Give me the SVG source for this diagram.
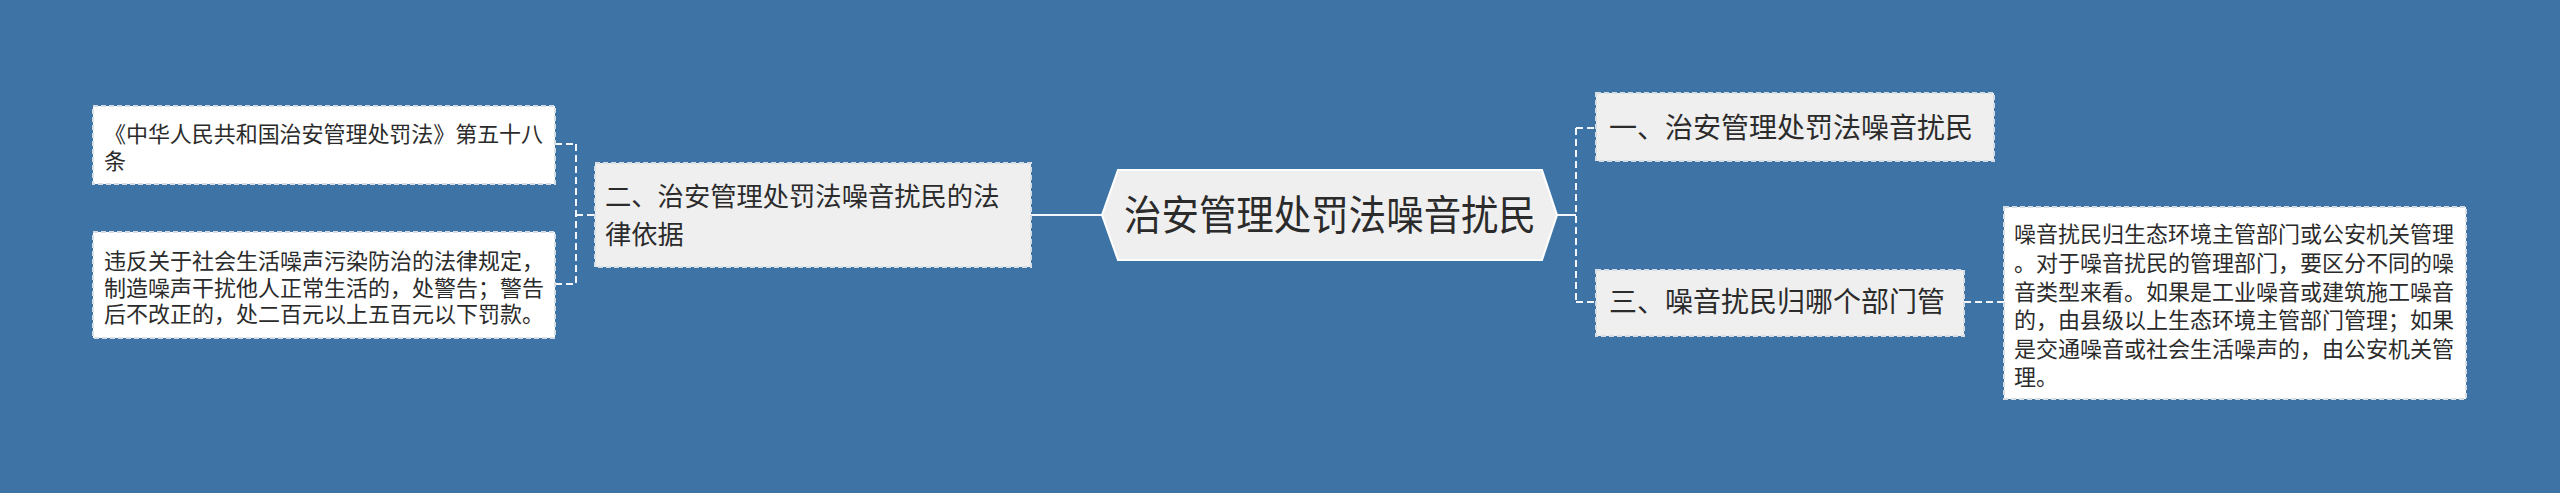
<svg xmlns="http://www.w3.org/2000/svg" width="2560" height="493" viewBox="0 0 2560 493">
<style>
text{font-family:"Liberation Sans","Noto Sans CJK SC","Noto Sans CJK TC",sans-serif;fill:#2b2b2b;text-spacing-trim:space-all}
.box{stroke:#d6dde5;stroke-width:2;stroke-dasharray:5 3}
.white{fill:#ffffff}
.grey{fill:#efefef}
.dash{stroke:#f2f5f9;stroke-width:2;fill:none;stroke-dasharray:7 4}
.solid{stroke:#f2f5f9;stroke-width:2;fill:none}
.t22{font-size:22px}
.t26{font-size:26.3px}
.t28{font-size:28px}
.t41{font-size:41px}
</style>
<rect width="2560" height="493" fill="#3d73a5"/>
<g id="connectors">
<line class="solid" x1="1031" y1="215" x2="1102" y2="215"/>
<line class="dash" x1="576" y1="144" x2="576" y2="284"/>
<line class="dash" x1="555" y1="144" x2="576" y2="144"/>
<line class="dash" x1="555" y1="284" x2="576" y2="284"/>
<line class="dash" x1="576" y1="215" x2="595" y2="215"/>
<line class="solid" x1="1557" y1="215" x2="1576" y2="215"/>
<line class="dash" x1="1576" y1="128" x2="1576" y2="302"/>
<line class="dash" x1="1576" y1="128" x2="1596" y2="128"/>
<line class="dash" x1="1576" y1="302" x2="1596" y2="302"/>
<line class="dash" x1="1964" y1="302" x2="2004" y2="302"/>
</g>
<g id="root">
<polygon points="1102,215 1118,170 1542,170 1557,215 1542,260 1118,260" fill="#efefef" stroke="#ffffff" stroke-width="2"/>
<text class="t41" x="1124" y="230" textLength="412" lengthAdjust="spacingAndGlyphs">治安管理处罚法噪音扰民</text>
</g>
<g id="node-2">
<rect class="box grey" x="595" y="163" width="436" height="104"/>
<text class="t26"><tspan x="605" y="206">二、治安管理处罚法噪音扰民的法</tspan><tspan x="605" y="244">律依据</tspan></text>
</g>
<g id="node-2-1">
<rect class="box white" x="93" y="106" width="462" height="78"/>
<text class="t22" x="104 125.95 147.9 169.85 191.8 213.75 235.7 257.65 279.6 301.55 323.5 345.45 367.4 389.35 411.3 433.25 455.2 477.15 499.1 521.05" y="141.5">《中华人民共和国治安管理处罚法》第五十八</text>
<text class="t22" x="104" y="168.8">条</text>
</g>
<g id="node-2-2">
<rect class="box white" x="93" y="232" width="462" height="106"/>
<text class="t22"><tspan x="104" y="269">违反关于社会生活噪声污染防治的法律规定，</tspan><tspan x="104" y="295.7">制造噪声干扰他人正常生活的，处警告；警告</tspan><tspan x="104" y="322.4">后不改正的，处二百元以上五百元以下罚款。</tspan></text>
</g>
<g id="node-1">
<rect class="box grey" x="1596" y="93" width="398" height="68"/>
<text class="t28" x="1609" y="137.6">一、治安管理处罚法噪音扰民</text>
</g>
<g id="node-3">
<rect class="box grey" x="1596" y="270" width="368" height="66"/>
<text class="t28" x="1609" y="312.3">三、噪音扰民归哪个部门管</text>
</g>
<g id="node-3-1">
<rect class="box white" x="2004" y="207" width="462" height="192"/>
<text class="t22"><tspan x="2014" y="242.4">噪音扰民归生态环境主管部门或公安机关管理</tspan><tspan x="2014" y="271">。对于噪音扰民的管理部门，要区分不同的噪</tspan><tspan x="2014" y="299.6">音类型来看。如果是工业噪音或建筑施工噪音</tspan><tspan x="2014" y="328.2">的，由县级以上生态环境主管部门管理；如果</tspan><tspan x="2014" y="356.8">是交通噪音或社会生活噪声的，由公安机关管</tspan><tspan x="2014" y="385.4">理。</tspan></text>
</g>
</svg>
